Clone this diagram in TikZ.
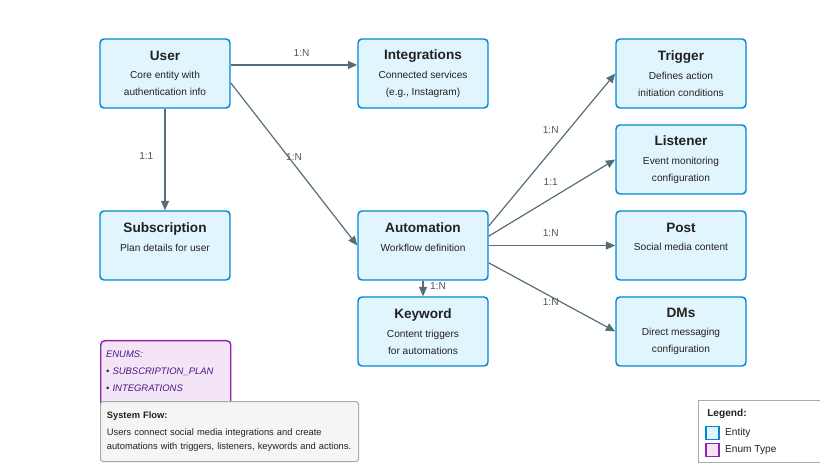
\documentclass[tikz,border=0pt]{standalone}
\usepackage{fontspec}
\setmainfont{Liberation Sans}
\usetikzlibrary{arrows.meta}
\usetikzlibrary{positioning}
\definecolor{entityfill}{HTML}{E1F5FE}
\definecolor{entityline}{HTML}{0288D1}
\definecolor{enumfill}{HTML}{F3E5F5}
\definecolor{enumline}{HTML}{8E24AA}
\definecolor{enumtext}{HTML}{4A148C}
\definecolor{linkcolor}{HTML}{546E7A}
\definecolor{labelgray}{HTML}{555555}
\definecolor{textdark}{HTML}{222222}
\definecolor{notefill}{HTML}{F5F5F5}
\definecolor{noteline}{HTML}{AAAAAA}

\begin{document}
\begin{tikzpicture}[x=0.75pt,y=-0.75pt,>={Triangle[length=7pt,width=6pt]},
					font=\fontsize{7.6}{12.75}\selectfont]
					\tikzstyle{entity}=[draw=entityline,fill=entityfill,line width=1.1pt,rounded corners=3pt,
					minimum width=97.5pt,minimum height=51.75pt,align=center,text=textdark]
					\tikzstyle{every edge}=[draw,->,linkcolor,line width=0.9pt]
					\tikzstyle{lbl}=[text=labelgray,inner sep=1pt,font=\fontsize{7.6}{9}\selectfont]
					
					\useasboundingbox (0,0) rectangle (820,473);
					
					% entities
					\node[entity] (User)         at (165,73.5)  {{\fontsize{10.2}{13}\selectfont\bfseries User}\\[1pt] Core entity with\\ authentication info};
					\node[entity] (Integrations) at (423,73.5)  {{\fontsize{10.2}{13}\selectfont\bfseries Integrations}\\[1pt] Connected services\\ (e.g., Instagram)};
					\node[entity] (Trigger)      at (681,73.5)  {{\fontsize{10.2}{13}\selectfont\bfseries Trigger}\\[1pt] Defines action\\ initiation conditions};
					\node[entity] (Listener)     at (681,159.5) {{\fontsize{10.2}{13}\selectfont\bfseries Listener}\\[1pt] Event monitoring\\ configuration};
					\node[entity] (Subscription) at (165,245.5) {{\fontsize{10.2}{13}\selectfont\bfseries Subscription}\\[1pt] Plan details for user\\ \mbox{}};
					\node[entity] (Automation)   at (423,245.5) {{\fontsize{10.2}{13}\selectfont\bfseries Automation}\\[1pt] Workflow definition\\ \mbox{}};
					\node[entity] (Post)         at (681,245.5) {{\fontsize{10.2}{13}\selectfont\bfseries Post}\\[1pt] Social media content\\ \mbox{}};
					\node[entity] (Keyword)      at (423,331.5) {{\fontsize{10.2}{13}\selectfont\bfseries Keyword}\\[1pt] Content triggers\\ for automations};
					\node[entity] (DMs)          at (681,331.5) {{\fontsize{10.2}{13}\selectfont\bfseries DMs}\\[1pt] Direct messaging\\ configuration};
					
					% relations
					\path ([yshift=6.4pt]User.east) edge node[lbl,pos=0.56,yshift=9pt] {1:N} ([yshift=6.4pt]Integrations.west)
					(User) edge node[lbl,midway,xshift=-14pt,yshift=2.6pt] {1:1} (Subscription)
					([yshift=-7pt]User.east) edge node[lbl,midway,yshift=5pt] {1:N} (Automation.west)
					([yshift=14.6pt]Automation.east) edge node[lbl,pos=0.49,yshift=15.7pt] {1:N} (Trigger.west)
					([yshift=7pt]Automation.east) edge node[lbl,pos=0.49,yshift=12.4pt] {1:1} (Listener.west)
					(Automation.east) edge node[lbl,pos=0.49,yshift=9.4pt] {1:N} (Post.west)
					([yshift=-13pt]Automation.east) edge node[lbl,pos=0.49,yshift=-4pt] {1:N} (DMs.west)
					(Automation) edge node[lbl,midway,xshift=11.3pt,yshift=1.9pt] {1:N} (Keyword)
					;
					
					% enums and notes
					\node[draw=enumline,fill=enumfill,line width=1.1pt,rounded corners=3pt,anchor=north west,
					text width=89.5pt,align=left,text=enumtext,inner xsep=4pt,inner ysep=7.5pt,
					text depth=40pt,font=\fontsize{7.1}{12.75}\selectfont\itshape] (Enums) at (100,340)
					{ENUMS:\\ \textbullet\ SUBSCRIPTION\_PLAN\\ \textbullet\ INTEGRATIONS};
					\node[draw=noteline,fill=notefill,line width=0.8pt,rounded corners=2pt,anchor=north west,
					minimum height=45pt,align=left,text width=184pt,text=textdark,
					inner xsep=4.75pt,inner ysep=4pt,font=\fontsize{7}{10.5}\selectfont] (Flow) at (100,401)
					{\textbf{System Flow:}\\[2pt] Users connect social media integrations and create\\ automations with triggers, listeners, keywords and actions.};
					
					% legend
					\node[draw=noteline,fill=white,line width=0.8pt,anchor=north west,minimum width=93pt,
					minimum height=46.5pt] (Legend) at (698,400) {};
					\node[anchor=west,inner sep=0pt,text=textdark] (LegendTitle) at (707,414) {\textbf{Legend:}};
					\node[draw=entityline,fill=entityfill,line width=1.1pt,minimum size=9.5pt,inner sep=0pt] (KeyEntity) at (712.5,433) {};
					\node[draw=enumline,fill=enumfill,line width=1.1pt,minimum size=9.5pt,inner sep=0pt] (KeyEnum) at (712.5,450) {};
					\node[anchor=west,inner sep=0pt,text=textdark,right=4pt of KeyEntity] {Entity};
					\node[anchor=west,inner sep=0pt,text=textdark,right=4pt of KeyEnum] {Enum Type};
					\end{tikzpicture}
\end{document}
